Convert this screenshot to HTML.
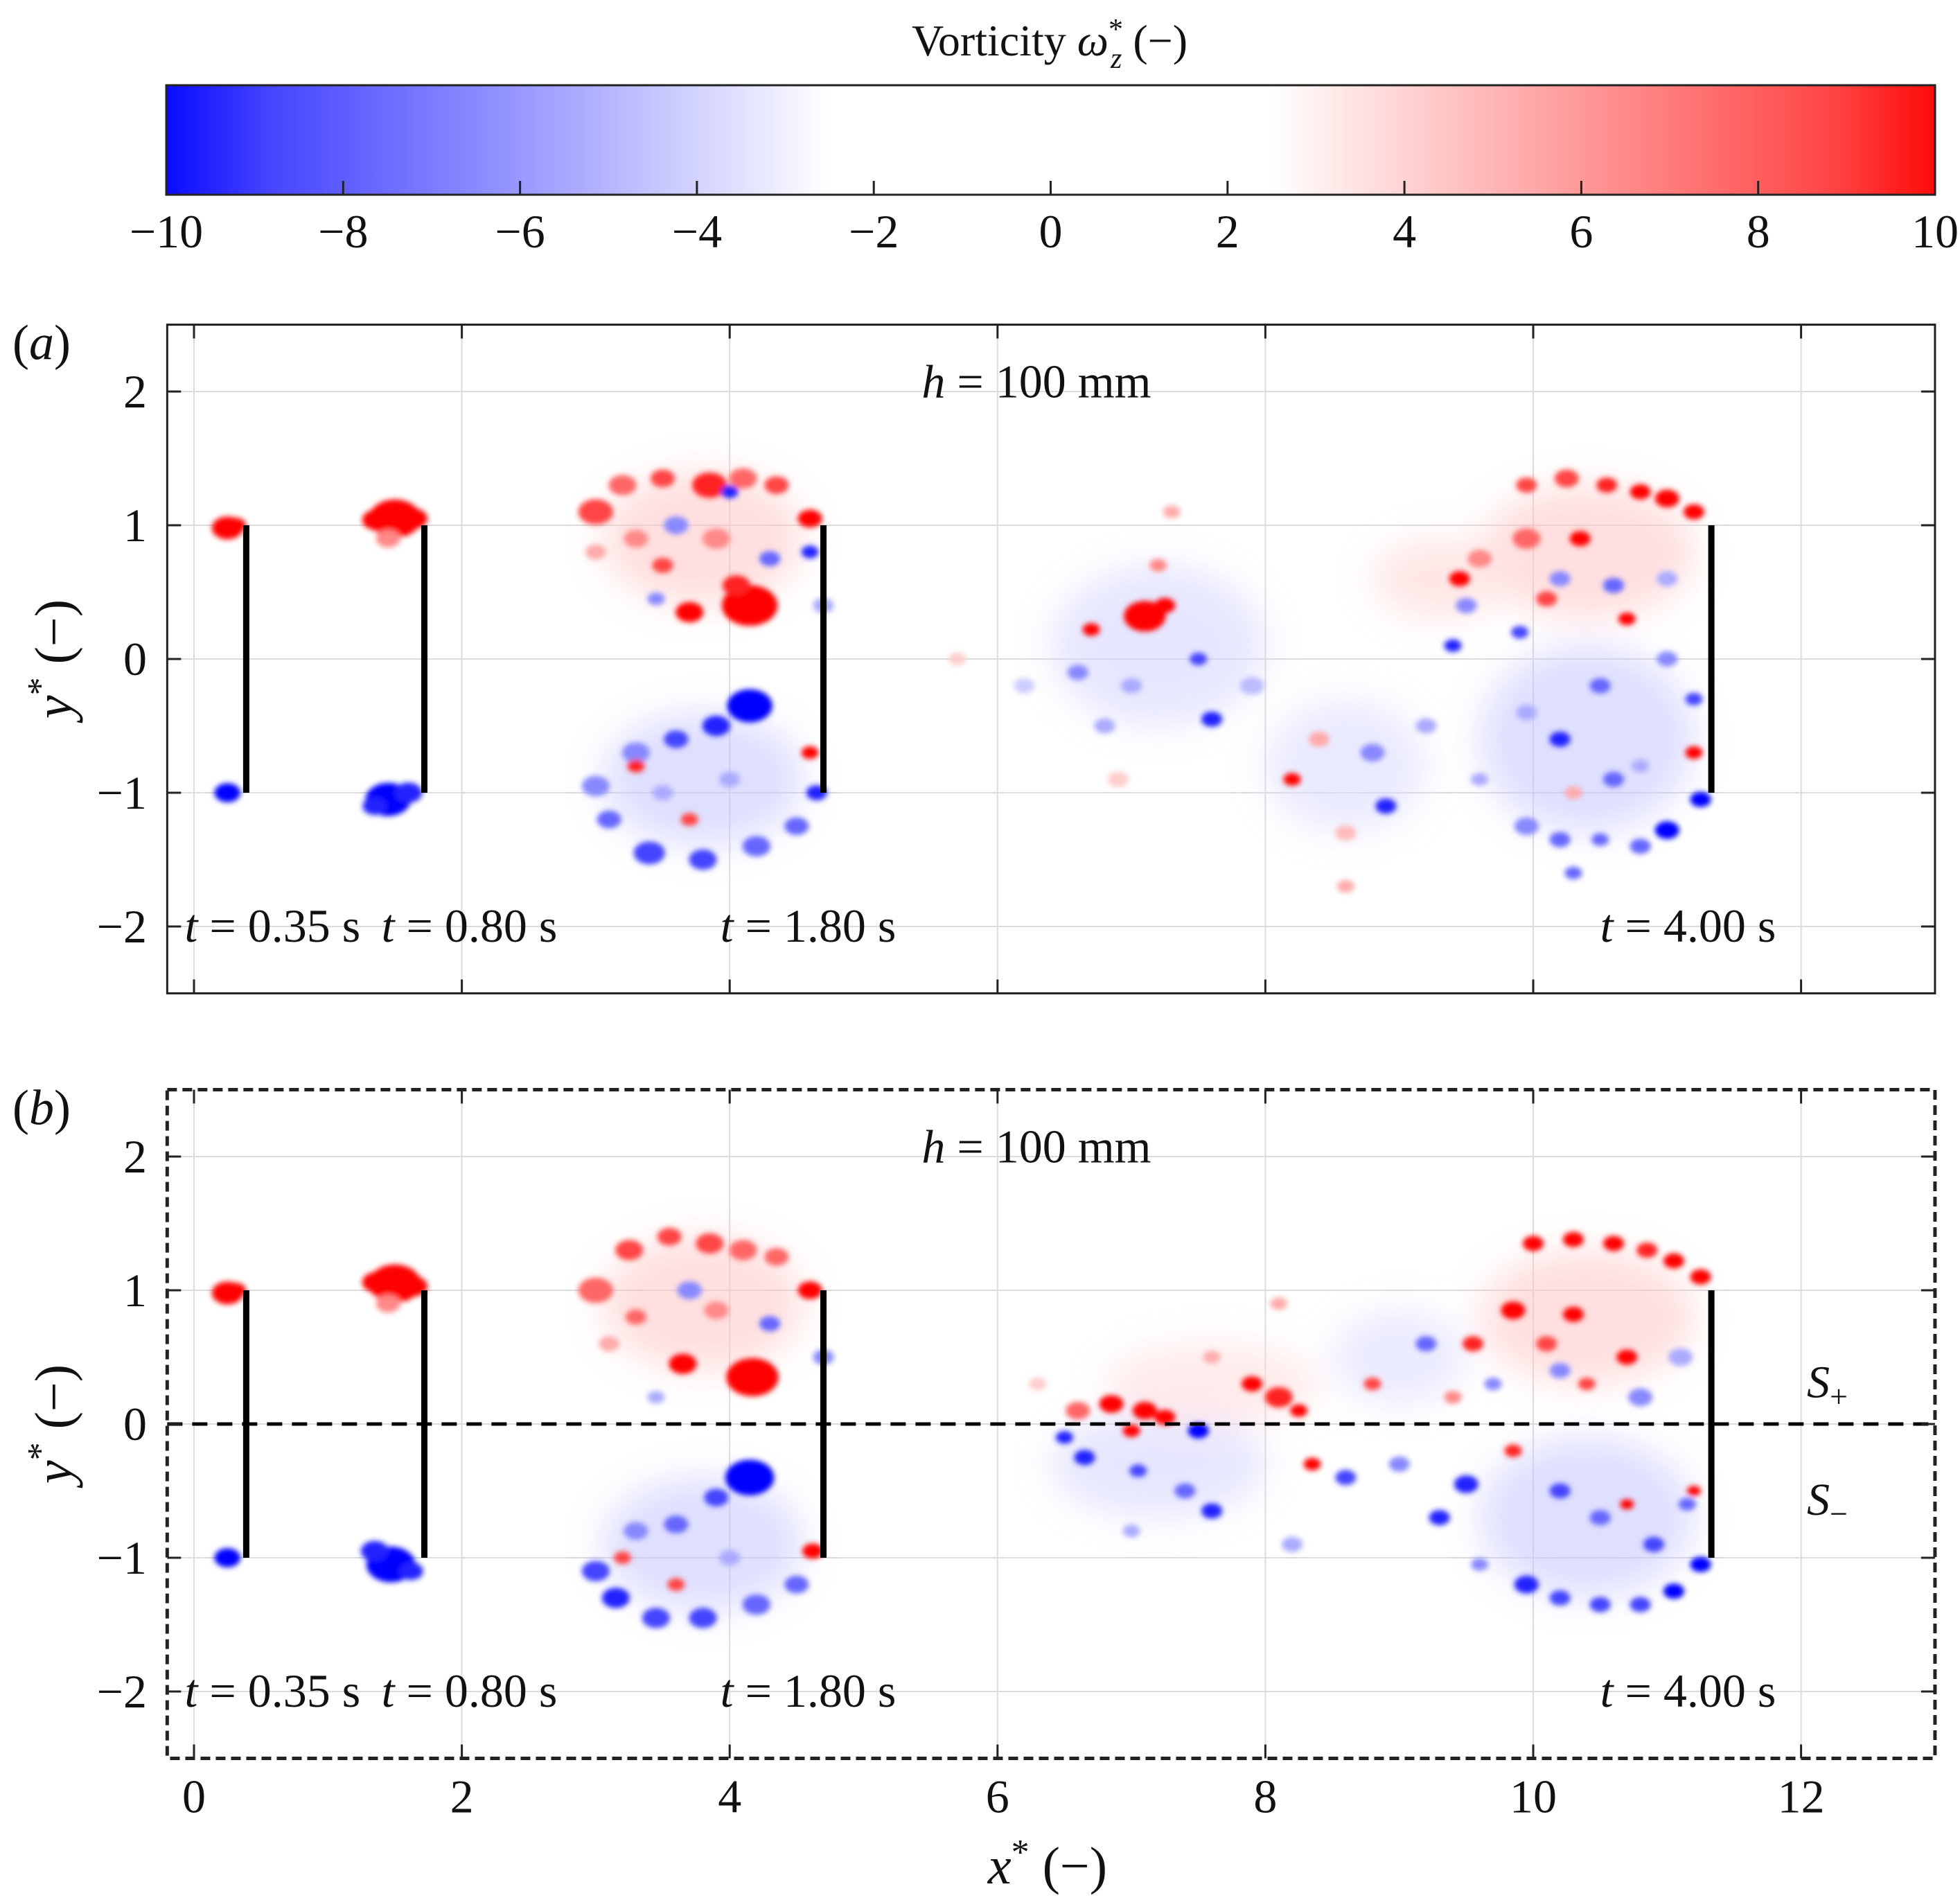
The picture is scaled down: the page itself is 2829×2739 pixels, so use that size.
<!DOCTYPE html>
<html><head><meta charset="utf-8">
<style>
html,body{margin:0;padding:0;background:#fff;}
svg{display:block;}
text{font-family:"Liberation Serif",serif;fill:#111;}
</style></head>
<body>
<svg id="fig" width="2829" height="2739" viewBox="0 0 2829 2739" xmlns="http://www.w3.org/2000/svg">
<defs>
<linearGradient id="cmap" x1="0" x2="1" y1="0" y2="0">
<stop offset="0" stop-color="#0a0aff"/>
<stop offset="0.06" stop-color="#4646ff"/>
<stop offset="0.375" stop-color="#ffffff"/>
<stop offset="0.625" stop-color="#ffffff"/>
<stop offset="0.94" stop-color="#ff4646"/>
<stop offset="1" stop-color="#ff0a0a"/>
</linearGradient>
<filter id="soft" x="-5%" y="-5%" width="110%" height="110%"><feGaussianBlur stdDeviation="4"/></filter>
<filter id="cloud" x="-20%" y="-20%" width="140%" height="140%"><feGaussianBlur stdDeviation="25"/></filter>
</defs>
<g id="cbar"></g>
<g id="panelA"></g>
<g id="panelB"></g>
</svg>
<script>
// ---- data ----
const cbarTicks = [-10,-8,-6,-4,-2,0,2,4,6,8,10];
const xTicks = [0,2,4,6,8,10,12];
const yTicks = [-2,-1,0,1,2];
const plateX = [0.39, 1.72, 4.70, 11.33];
const timeLabels = ["t = 0.35 s","t = 0.80 s","t = 1.80 s","t = 4.00 s"];
const timeLabelX = [-0.07, 1.4, 3.93, 10.5];
// faint diffuse regions: [x*, y*, rx, ry, vorticity]
const cloudsA = [
[3.8,0.9,0.75,0.5,4.2],[3.8,-0.9,0.75,0.5,-4.2],[7.2,0.1,0.8,0.6,-3.8],[8.6,-0.8,0.6,0.5,-3.6],
[10.4,0.8,0.8,0.5,4.2],[10.4,-0.6,0.8,0.7,-4.2],[9.3,0.6,0.5,0.3,3.8]
];
const cloudsB = [
[3.8,0.9,0.75,0.5,4.2],[3.8,-0.9,0.75,0.5,-4.2],[7.2,-0.3,0.8,0.4,-3.8],[7.6,0.3,0.8,0.3,3.6],
[9.0,0.5,0.5,0.35,-3.6],[10.4,0.8,0.8,0.5,4.2],[10.4,-0.7,0.8,0.6,-4.2]
];
// blobs: [x*, y*, radius (x* units), vorticity]
const blobsA = [
[0.25,0.98,0.09,10],[0.31,1.0,0.06,10],[0.25,-1.0,0.075,-10],
[1.5,1.05,0.15,10],[1.36,1.04,0.08,10],[1.64,1.05,0.08,10],[1.45,0.9,0.07,6],
[1.45,-1.05,0.13,-10],[1.6,-1.0,0.08,-9],[1.35,-1.1,0.07,-9],
[3.0,1.1,0.1,8],[3.2,1.3,0.08,7],[3.5,1.35,0.07,8],[3.85,1.3,0.1,9],[4.1,1.35,0.08,7],[4.35,1.3,0.07,8],[4.6,1.05,0.07,10],
[4.15,0.4,0.16,10],[4.05,0.55,0.08,9],[3.7,0.35,0.08,10],[3.5,0.7,0.06,8],[3.3,0.9,0.07,6],[3.0,0.8,0.06,5],[3.9,0.9,0.08,6],
[4.3,0.75,0.06,-7],[3.6,1.0,0.07,-6],[4.0,1.25,0.05,-9],[4.6,0.8,0.05,-9],[4.7,0.4,0.06,-5],[3.45,0.45,0.05,-6],
[4.15,-0.35,0.13,-10],[3.9,-0.5,0.08,-9],[3.6,-0.6,0.07,-8],[3.3,-0.7,0.08,-6],[3.0,-0.95,0.08,-6],[3.1,-1.2,0.07,-7],
[3.4,-1.45,0.09,-8],[3.8,-1.5,0.08,-8],[4.2,-1.4,0.08,-7],[4.5,-1.25,0.07,-7],[4.65,-1.0,0.06,-9],
[3.3,-0.8,0.05,9],[4.6,-0.7,0.05,10],[3.7,-1.2,0.05,8],[4.0,-0.9,0.06,-5],[3.5,-1.0,0.06,-5],
[7.1,0.32,0.12,10],[7.25,0.4,0.06,10],[6.7,0.22,0.05,10],[6.6,-0.1,0.06,-6],[7.0,-0.2,0.06,-5],[7.5,0.0,0.05,-8],
[7.6,-0.45,0.06,-9],[7.2,0.7,0.05,6],[6.8,-0.5,0.06,-5],[7.9,-0.2,0.07,-4.5],[8.4,-0.6,0.06,5],[8.2,-0.9,0.05,10],
[8.8,-0.7,0.07,-6],[8.9,-1.1,0.06,-9],[9.2,-0.5,0.06,-5],[8.6,-1.3,0.06,4.5],[8.6,-1.7,0.05,5],[9.5,0.4,0.06,-6],
[9.4,0.1,0.05,-9],[9.6,-0.9,0.05,-5],[6.2,-0.2,0.06,-4],[7.3,1.1,0.05,5],[6.9,-0.9,0.06,4],[5.7,0.0,0.05,4],
[9.95,1.3,0.06,8],[10.25,1.35,0.07,8],[10.55,1.3,0.06,9],[10.8,1.25,0.06,10],[11.0,1.2,0.07,10],[11.2,1.1,0.06,10],
[9.95,0.9,0.08,7],[10.35,0.9,0.06,10],[9.45,0.6,0.06,10],[9.6,0.75,0.07,6],[10.1,0.45,0.06,8],[10.7,0.3,0.05,10],
[10.2,0.6,0.06,-6],[10.6,0.55,0.06,-7],[11.0,0.6,0.06,-5],[9.9,0.2,0.05,-8],[10.5,-0.2,0.06,-7],[11.0,0.0,0.06,-6],[11.2,-0.3,0.05,-8],
[9.95,-1.25,0.07,-6],[10.2,-1.35,0.06,-7],[10.5,-1.35,0.05,-7],[10.8,-1.4,0.06,-7],[11.0,-1.28,0.07,-10],[11.25,-1.05,0.06,-10],
[10.2,-0.6,0.06,-9],[10.6,-0.9,0.06,-7],[10.3,-1.0,0.05,5],[10.8,-0.8,0.05,-5],[9.95,-0.4,0.06,-5],[11.2,-0.7,0.05,10],[10.3,-1.6,0.05,-7]
];
const blobsB = [
[0.25,0.98,0.09,10],[0.31,1.0,0.06,10],[0.25,-1.0,0.075,-10],
[1.5,1.05,0.15,10],[1.36,1.06,0.08,10],[1.64,1.03,0.08,10],[1.45,0.9,0.07,6],
[1.47,-1.05,0.14,-10],[1.35,-0.95,0.08,-9],[1.62,-1.1,0.07,-9],
[3.0,1.0,0.1,7],[3.25,1.3,0.08,8],[3.55,1.4,0.07,8],[3.85,1.35,0.08,8],[4.1,1.3,0.08,7],[4.35,1.25,0.07,7],[4.6,1.0,0.07,10],
[4.17,0.35,0.15,10],[3.65,0.45,0.08,10],[3.3,0.8,0.06,7],[3.9,0.85,0.07,6],[3.1,0.6,0.06,5],
[4.3,0.75,0.06,-7],[3.7,1.0,0.07,-6],[4.7,0.5,0.06,-6],[3.45,0.2,0.05,-5],
[4.15,-0.4,0.14,-10],[3.9,-0.55,0.07,-8],[3.6,-0.75,0.07,-7],[3.3,-0.8,0.07,-6],[3.0,-1.1,0.08,-8],[3.15,-1.3,0.08,-9],
[3.45,-1.45,0.08,-8],[3.8,-1.45,0.08,-8],[4.2,-1.35,0.08,-7],[4.5,-1.2,0.07,-7],[4.62,-0.95,0.06,10],
[3.2,-1.0,0.05,8],[3.6,-1.2,0.05,8],[4.0,-1.0,0.06,-5],
[6.6,0.1,0.07,7],[6.85,0.15,0.07,10],[7.1,0.1,0.07,10],[7.25,0.05,0.06,10],[7.0,-0.05,0.05,10],
[6.5,-0.1,0.05,-9],[6.65,-0.25,0.06,-9],[7.05,-0.35,0.05,-8],[7.5,-0.05,0.06,-10],[7.4,-0.5,0.06,-7],[7.6,-0.65,0.06,-9],
[7.9,0.3,0.06,10],[8.1,0.2,0.08,9],[8.25,0.1,0.05,10],[8.35,-0.3,0.05,10],[8.6,-0.4,0.06,-8],[8.8,0.3,0.05,8],
[9.0,-0.3,0.06,-6],[9.2,0.6,0.06,-7],[8.1,0.9,0.05,5],[7.6,0.5,0.05,5],[9.3,-0.7,0.06,-9],[9.4,0.2,0.05,6],[6.3,0.3,0.05,4],
[8.2,-0.9,0.06,-5],[7.0,-0.8,0.05,-5],
[10.0,1.35,0.06,10],[10.3,1.38,0.06,10],[10.6,1.35,0.06,10],[10.85,1.3,0.06,9],[11.05,1.22,0.06,10],[11.25,1.1,0.06,10],
[9.85,0.85,0.07,10],[10.3,0.82,0.06,10],[9.55,0.6,0.06,9],[10.1,0.6,0.06,8],[10.7,0.5,0.06,10],[10.4,0.3,0.05,8],
[10.2,0.4,0.06,-6],[10.8,0.2,0.07,-6],[11.1,0.5,0.07,-5],[9.7,0.3,0.05,-6],
[9.5,-0.45,0.07,-9],[9.85,-0.2,0.05,9],[10.2,-0.5,0.06,-8],[10.5,-0.7,0.06,-7],[10.9,-0.9,0.06,-8],[11.15,-0.6,0.05,-7],
[9.95,-1.2,0.07,-9],[10.2,-1.3,0.06,-8],[10.5,-1.35,0.06,-8],[10.8,-1.35,0.06,-8],[11.05,-1.25,0.06,-10],[11.25,-1.05,0.06,-10],
[10.7,-0.6,0.04,10],[11.2,-0.5,0.04,10],[9.6,-1.05,0.05,-6]
];
// ---- axes ----
const X0 = 280, XS = 193.3;
const X = x => X0 + XS * x;
const YA = y => 951 - 193 * y;
const YB = y => 2055 - 193 * y;
const svg = document.getElementById('fig');
const NS = 'http://www.w3.org/2000/svg';
function mk(tag, attrs, parent, txt){
  const e = document.createElementNS(NS, tag);
  for (const k in attrs) e.setAttribute(k, attrs[k]);
  if (txt !== undefined) e.textContent = txt;
  parent.appendChild(e);
  return e;
}
function color(v){
  const a = Math.abs(v);
  const t = Math.max(0, Math.min(1, (a - 2.5) / 7.5));
  const c = Math.round(255 * (1 - t));
  return v > 0 ? `rgb(255,${c},${c})` : `rgb(${c},${c},255)`;
}
const FS = 68;
// ---- colorbar ----
const cb = document.getElementById('cbar');
const CBL = 240, CBR = 2793, CBT = 123, CBB = 281;
const CX = v => CBL + (v + 10) / 20 * (CBR - CBL);
const cbt = mk('text', {x:1515, y:80, 'font-size':64, 'text-anchor':'middle'}, cb);


cbt.innerHTML = 'Vorticity <tspan font-style="italic">ω</tspan><tspan font-size="42" dy="-24">*</tspan><tspan font-size="42" font-style="italic" dx="-18" dy="42">z</tspan><tspan dy="-18"> (−)</tspan>';
const cbr = mk('rect', {x:CBL, y:CBT, width:CBR-CBL, height:CBB-CBT, fill:'url(#cmap)', stroke:'#222', 'stroke-width':3}, cb);


cbarTicks.forEach(v => {
  if (v > -10 && v < 10) mk('line', {x1:CX(v), x2:CX(v), y1:CBB, y2:CBB-20, stroke:'#222', 'stroke-width':3}, cb);
  const t = mk('text', {x:CX(v), y:357, 'font-size':FS, 'text-anchor':'middle'}, cb, (v < 0 ? '−' : '') + Math.abs(v));
  
  
});
// ---- panels ----
function panel(gid, Y, blobs, clouds, label, dashed){
  const g = document.getElementById(gid);
  const L = X(-0.2), R = X(13), T = Y(2.5), B = Y(-2.5);
  xTicks.forEach(x => mk('line', {x1:X(x), x2:X(x), y1:T, y2:B, stroke:'#dcdcdc', 'stroke-width':2}, g));
  yTicks.forEach(y => mk('line', {x1:L, x2:R, y1:Y(y), y2:Y(y), stroke:'#dcdcdc', 'stroke-width':2}, g));
  const cg = mk('g', {filter:'url(#cloud)', opacity:0.55}, g);
  
  
  clouds.forEach(c => {
    const e = mk('ellipse', {cx:X(c[0]), cy:Y(c[1]), rx:XS*c[2], ry:193*c[3], fill:color(c[4])}, cg);
    
    
  });
  const bg = mk('g', {filter:'url(#soft)'}, g);
  
  
  blobs.forEach(b => {
    const e = mk('ellipse', {cx:X(b[0]), cy:Y(b[1]), rx:XS*b[2]*1.3, ry:XS*b[2]*0.95, fill:color(b[3])}, bg);
    
    
  });
  plateX.forEach(px => {
    const p = mk('line', {x1:X(px), x2:X(px), y1:Y(1), y2:Y(-1), stroke:'#000', 'stroke-width':9}, g);
    
    
  });
  if (dashed){
    const d = mk('line', {x1:L, x2:R, y1:Y(0), y2:Y(0), stroke:'#000', 'stroke-width':5, 'stroke-dasharray':'22 14'}, g);
    
    
    const sp = mk('text', {x:2608, y:Y(0.2), 'font-size':66, 'font-style':'italic'}, g);
    sp.innerHTML = 'S<tspan font-size="46" font-style="normal" dy="14">+</tspan>';
    
    
    const sm = mk('text', {x:2608, y:Y(-0.68), 'font-size':66, 'font-style':'italic'}, g);
    sm.innerHTML = 'S<tspan font-size="46" font-style="normal" dy="14">−</tspan>';
    
    
  }
  const fr = mk('rect', {x:L, y:T, width:R-L, height:B-T, fill:'none', stroke:'#222', 'stroke-width':dashed?5:3, 'stroke-dasharray':dashed?'14 8':'none'}, g);
  
  
  xTicks.forEach(x => {
    mk('line', {x1:X(x), x2:X(x), y1:T, y2:T+20, stroke:'#222', 'stroke-width':3}, g);
    mk('line', {x1:X(x), x2:X(x), y1:B, y2:B-20, stroke:'#222', 'stroke-width':3}, g);
  });
  yTicks.forEach(y => {
    mk('line', {x1:L, x2:L+20, y1:Y(y), y2:Y(y), stroke:'#222', 'stroke-width':3}, g);
    mk('line', {x1:R, x2:R-20, y1:Y(y), y2:Y(y), stroke:'#222', 'stroke-width':3}, g);
    const t = mk('text', {x:212, y:Y(y)+23, 'font-size':FS, 'text-anchor':'end'}, g, (y < 0 ? '−' : '') + Math.abs(y));
    
    
  });
  const pl = mk('text', {x:18, y:T+50, 'font-size':72}, g);
  pl.innerHTML = '(<tspan font-style="italic">' + label + '</tspan>)';
  
  
  const h = mk('text', {x:1496, y:Y(2.05)+18, 'font-size':FS, 'text-anchor':'middle'}, g);
  h.innerHTML = '<tspan font-style="italic">h</tspan> = 100 mm';
  
  
  timeLabels.forEach((s, i) => {
    const t = mk('text', {x:X(timeLabelX[i]), y:Y(-2)+22, 'font-size':FS}, g);
    t.innerHTML = '<tspan font-style="italic">t</tspan>' + s.slice(1);
    
    
  });
  const yl = mk('text', {x:0, y:0, 'font-size':76, 'text-anchor':'middle', transform:`translate(103,${Y(0)}) rotate(-90)`}, g);
  yl.innerHTML = '<tspan font-style="italic">y</tspan><tspan font-size="52" dy="-28">*</tspan><tspan dy="28"> (−)</tspan>';
  
  
  return {B};
}
panel('panelA', YA, blobsA, cloudsA, 'a', false);
const pb = panel('panelB', YB, blobsB, cloudsB, 'b', true);
const gB = document.getElementById('panelB');
xTicks.forEach(x => {
  const t = mk('text', {x:X(x), y:pb.B+78, 'font-size':FS, 'text-anchor':'middle'}, gB, String(x));
  
  
});
const xl = mk('text', {x:1512, y:2718, 'font-size':76, 'text-anchor':'middle'}, gB);
xl.innerHTML = '<tspan font-style="italic">x</tspan><tspan font-size="52" dy="-28">*</tspan><tspan dy="28"> (−)</tspan>';


</script>
</body></html>
